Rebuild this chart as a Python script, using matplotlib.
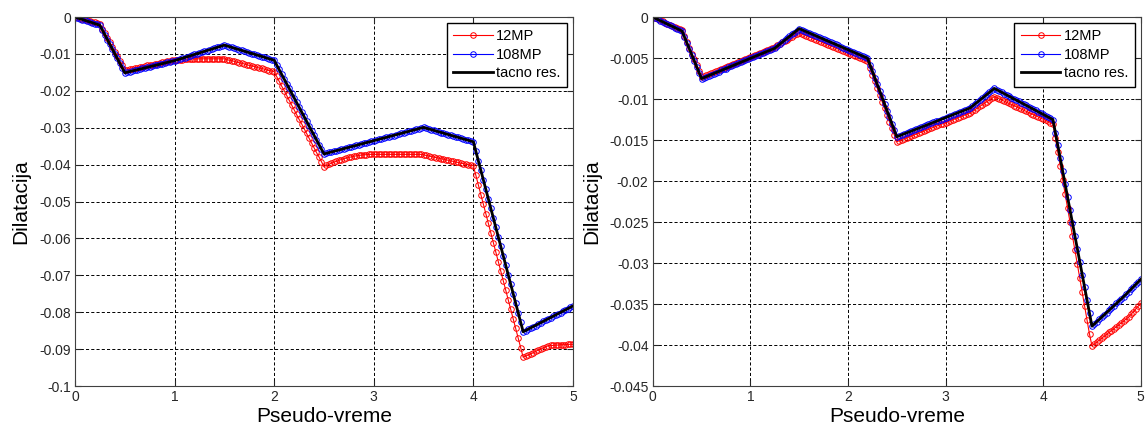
import numpy as np
import matplotlib
matplotlib.use('Agg')
import matplotlib.pyplot as plt

plt.rcParams['font.family'] = ['Liberation Sans', 'DejaVu Sans']

# pseudo-time steps (0 .. 5, step 0.025)
t = np.linspace(0, 5, 201)

# ---- left panel ----
mp12_L = [0, -.0001, -.0003, -.0004, -.0006, -.0008, -.0010, -.0012, -.0014, -.0016, -.0018,
          -.0031, -.0043, -.0056, -.0068, -.0081, -.0094, -.0106, -.0119, -.0131, -.0144,
          -.0143, -.0141, -.0140, -.0138, -.0137, -.0136, -.0134, -.0133, -.0131, -.0130,
          -.0129, -.0127, -.0126, -.0124, -.0123, -.0122, -.0120, -.0119, -.0117, -.0116,
          -.0116, -.0115, -.0115, -.0114, -.0114, -.0114, -.0113, -.0113, -.0113, -.0113,
          -.0113, -.0113, -.0113, -.0113, -.0113, -.0113, -.0113, -.0113, -.0113, -.0113,
          -.0115, -.0117, -.0118, -.0120, -.0122, -.0124, -.0125, -.0127, -.0129, -.0131,
          -.0132, -.0134, -.0136, -.0138, -.0139, -.0141, -.0143, -.0145, -.0146, -.0148,
          -.0161, -.0174, -.0187, -.0199, -.0212, -.0225, -.0238, -.0251, -.0264, -.0277,
          -.0289, -.0302, -.0315, -.0328, -.0341, -.0354, -.0367, -.0379, -.0392, -.0405,
          -.0402, -.0399, -.0396, -.0393, -.0391, -.0388, -.0386, -.0384, -.0382, -.0380,
          -.0379, -.0377, -.0376, -.0375, -.0374, -.0373, -.0373, -.0372, -.0372, -.0372,
          -.0372, -.0372, -.0372, -.0372, -.0372, -.0372, -.0372, -.0372, -.0372, -.0372,
          -.0372, -.0372, -.0372, -.0372, -.0372, -.0372, -.0372, -.0372, -.0372, -.0373,
          -.0375, -.0376, -.0378, -.0379, -.0381, -.0382, -.0384, -.0385, -.0387, -.0388,
          -.0390, -.0391, -.0393, -.0394, -.0396, -.0397, -.0399, -.0400, -.0402, -.0403,
          -.0429, -.0455, -.0481, -.0507, -.0533, -.0559, -.0585, -.0611, -.0637, -.0663,
          -.0689, -.0714, -.0740, -.0766, -.0792, -.0818, -.0844, -.0870, -.0896, -.0922,
          -.0919, -.0916, -.0913, -.0910, -.0906, -.0903, -.0900, -.0897, -.0894, -.0891,
          -.0890, -.0890, -.0889, -.0889, -.0888, -.0888, -.0888, -.0887, -.0887, -.0887]

mp108_L = [0, -.0002, -.0004, -.0007, -.0009, -.0011, -.0013, -.0015, -.0018, -.0020, -.0022,
           -.0035, -.0048, -.0061, -.0074, -.0087, -.0099, -.0112, -.0125, -.0138, -.0151,
           -.0149, -.0148, -.0146, -.0144, -.0143, -.0141, -.0139, -.0138, -.0136, -.0135,
           -.0133, -.0131, -.0130, -.0128, -.0126, -.0125, -.0123, -.0121, -.0120, -.0118,
           -.0116, -.0114, -.0112, -.0110, -.0108, -.0105, -.0103, -.0101, -.0099, -.0097,
           -.0095, -.0093, -.0091, -.0089, -.0087, -.0084, -.0082, -.0080, -.0078, -.0076,
           -.0078, -.0080, -.0082, -.0084, -.0086, -.0088, -.0090, -.0092, -.0094, -.0097,
           -.0099, -.0101, -.0103, -.0105, -.0107, -.0109, -.0111, -.0113, -.0115, -.0117,
           -.0130, -.0142, -.0155, -.0168, -.0181, -.0193, -.0206, -.0219, -.0231, -.0244,
           -.0257, -.0269, -.0282, -.0295, -.0308, -.0320, -.0333, -.0346, -.0358, -.0371,
           -.0369, -.0367, -.0366, -.0364, -.0362, -.0360, -.0358, -.0357, -.0355, -.0353,
           -.0351, -.0349, -.0348, -.0346, -.0344, -.0342, -.0340, -.0339, -.0337, -.0335,
           -.0333, -.0331, -.0330, -.0328, -.0326, -.0324, -.0322, -.0321, -.0319, -.0317,
           -.0315, -.0313, -.0312, -.0310, -.0308, -.0306, -.0304, -.0303, -.0301, -.0299,
           -.0301, -.0303, -.0305, -.0307, -.0309, -.0311, -.0313, -.0315, -.0317, -.0319,
           -.0320, -.0322, -.0324, -.0326, -.0328, -.0330, -.0332, -.0334, -.0336, -.0338,
           -.0364, -.0390, -.0415, -.0441, -.0467, -.0493, -.0518, -.0544, -.0570, -.0596,
           -.0621, -.0647, -.0673, -.0699, -.0724, -.0750, -.0776, -.0802, -.0827, -.0853,
           -.0850, -.0846, -.0843, -.0839, -.0836, -.0832, -.0829, -.0825, -.0822, -.0818,
           -.0815, -.0811, -.0808, -.0804, -.0801, -.0797, -.0794, -.0790, -.0787, -.0783]

exact_t_L = [0, 0.25, 0.5, 1.0, 1.5, 2.0, 2.5, 3.5, 4.0, 4.5, 5.0]
exact_L = [0, -.0022, -.0151, -.0118, -.0076, -.0117, -.0371, -.0299, -.0338, -.0853, -.0783]

yticks_L = [0, -.01, -.02, -.03, -.04, -.05, -.06, -.07, -.08, -.09, -.1]
ylabels_L = ['0', '-0.01', '-0.02', '-0.03', '-0.04', '-0.05', '-0.06', '-0.07', '-0.08', '-0.09', '-0.1']

# ---- right panel ----
mp12_R = [0, -.00013, -.00027, -.0004, -.00053, -.00067, -.0008, -.00093, -.00107, -.0012, -.00133, -.00147, -.0016,
          -.00231, -.00303, -.00374, -.00445, -.00516, -.00588, -.00659, -.0073,
          -.00718, -.00705, -.00693, -.00681, -.00668, -.00656, -.00644, -.00631, -.00619, -.00607,
          -.00594, -.00582, -.0057, -.00557, -.00545, -.00533, -.0052, -.00508, -.00496, -.00483,
          -.00471, -.00459, -.00446, -.00434, -.00422, -.00409, -.00397, -.00385, -.00372, -.0036,
          -.00343, -.00326, -.00309, -.00292, -.00275, -.00258, -.00241, -.00224, -.00207, -.0019,
          -.00203, -.00215, -.00228, -.0024, -.00253, -.00265, -.00278, -.0029, -.00303, -.00315,
          -.00328, -.0034, -.00353, -.00365, -.00378, -.0039, -.00403, -.00415, -.00428, -.0044,
          -.00453, -.00465, -.00478, -.0049, -.00503, -.00515, -.00528, -.0054,
          -.00622, -.00703, -.00785, -.00867, -.00948, -.0103, -.01112, -.01193, -.01275, -.01357, -.01438, -.0152,
          -.01508, -.01497, -.01485, -.01473, -.01462, -.0145, -.01438, -.01427, -.01415, -.01403,
          -.01392, -.0138, -.01368, -.01357, -.01345, -.01333, -.01322, -.0131, -.01298, -.01287,
          -.01275, -.01263, -.01252, -.0124, -.01228, -.01217, -.01205, -.01193, -.01182, -.0117,
          -.0115, -.0113, -.0111, -.0109, -.0107, -.0105, -.0103, -.0101, -.0099, -.0097,
          -.00984, -.00998, -.01011, -.01025, -.01039, -.01053, -.01066, -.0108, -.01094, -.01108,
          -.01121, -.01135, -.01149, -.01163, -.01176, -.0119, -.01204, -.01218, -.01231, -.01245,
          -.01259, -.01273, -.01286, -.013,
          -.01471, -.01643, -.01814, -.01985, -.02157, -.02328, -.02499, -.0267, -.02842, -.03013,
          -.03184, -.03356, -.03527, -.03698, -.0387, -.0401,
          -.03987, -.03963, -.0394, -.03917, -.03893, -.0387, -.03847, -.03823, -.038, -.03777,
          -.03753, -.0373, -.03707, -.03683, -.0366,
          -.03626, -.03592, -.03558, -.03524, -.0349]

mp108_R = [0, -.00014, -.00028, -.00043, -.00057, -.00071, -.00085, -.00099, -.00113, -.00128, -.00142, -.00156, -.0017,
           -.00243, -.00315, -.00388, -.0046, -.00533, -.00605, -.00678, -.0075,
           -.00738, -.00725, -.00713, -.00701, -.00688, -.00676, -.00664, -.00651, -.00639, -.00627,
           -.00614, -.00602, -.0059, -.00577, -.00565, -.00553, -.0054, -.00528, -.00516, -.00503,
           -.00491, -.00479, -.00466, -.00454, -.00442, -.00429, -.00417, -.00405, -.00392, -.0038,
           -.00356, -.00332, -.00308, -.00284, -.0026, -.00236, -.00212, -.00188, -.00164, -.0014,
           -.00153, -.00166, -.00179, -.00191, -.00204, -.00217, -.0023, -.00243, -.00256, -.00269,
           -.00281, -.00294, -.00307, -.0032, -.00333, -.00346, -.00359, -.00371, -.00384, -.00397,
           -.0041, -.00423, -.00436, -.00449, -.00461, -.00474, -.00487, -.005,
           -.0058, -.0066, -.0074, -.0082, -.009, -.0098, -.0106, -.0114, -.0122, -.013, -.0138, -.0146,
           -.01448, -.01437, -.01425, -.01413, -.01402, -.0139, -.01378, -.01367, -.01355, -.01343,
           -.01332, -.0132, -.01308, -.01297, -.01285, -.01273, -.01262, -.0125, -.01238, -.01227,
           -.01215, -.01203, -.01192, -.0118, -.01168, -.01157, -.01145, -.01133, -.01122, -.0111,
           -.01086, -.01062, -.01038, -.01014, -.0099, -.00966, -.00942, -.00918, -.00894, -.0087,
           -.00886, -.00902, -.00917, -.00933, -.00949, -.00965, -.00981, -.00997, -.01012, -.01028,
           -.01044, -.0106, -.01076, -.01092, -.01107, -.01123, -.01139, -.01155, -.01171, -.01187,
           -.01202, -.01218, -.01234, -.0125,
           -.01408, -.01565, -.01723, -.0188, -.02038, -.02195, -.02353, -.0251, -.02668, -.02825,
           -.02983, -.0314, -.03298, -.03455, -.03613, -.0377,
           -.03742, -.03715, -.03687, -.03659, -.03632, -.03604, -.03576, -.03548, -.03521, -.03493,
           -.03465, -.03438, -.0341,
           -.0338, -.0335, -.0332, -.0329, -.0326, -.0323, -.032]

exact_t_R = [0, 0.3, 0.5, 1.25, 1.5, 2.2, 2.5, 3.25, 3.5, 4.1, 4.5, 4.825, 5.0]
exact_R = [0, -.0017, -.0075, -.0038, -.0014, -.005, -.0146, -.0111, -.0087, -.0125, -.0377, -.0341, -.032]

yticks_R = [0, -.005, -.01, -.015, -.02, -.025, -.03, -.035, -.04, -.045]
ylabels_R = ['0', '-0.005', '-0.01', '-0.015', '-0.02', '-0.025', '-0.03', '-0.035', '-0.04', '-0.045']

xticks = [0, 1, 2, 3, 4, 5]


def panel(ax, r, b, et, ey, yt, yl):
    ax.plot(t, r, '-o', color='red', lw=0.8, ms=4, mfc='none', mew=0.7, label='12MP')
    ax.plot(t, b, '-o', color='blue', lw=0.8, ms=4, mfc='none', mew=0.7, label='108MP')
    ax.plot(et, ey, '-', color='black', lw=2, label='tacno res.')
    ax.set_xlim(0, 5)
    ax.set_ylim(yt[-1], 0)
    ax.set_xticks(xticks)
    ax.set_xticklabels([str(x) for x in xticks])
    ax.set_yticks(yt)
    ax.set_yticklabels(yl)
    ax.grid(True, color='black', linestyle=(0, (3.2, 2.2)), linewidth=0.7)
    ax.tick_params(direction='in', top=True, right=True, labelsize=10, length=4, pad=3,
                   colors='#262626')
    for s in ax.spines.values():
        s.set_color('#404040')
    ax.set_xlabel('Pseudo-vreme', fontsize=15, labelpad=2)
    ax.set_ylabel('Dilatacija', fontsize=15, labelpad=6)
    ax.legend(loc='upper right', fontsize=10.5, fancybox=False, framealpha=1, edgecolor='black',
              numpoints=1, handlelength=2.7, borderaxespad=0.4, borderpad=0.45,
              labelspacing=0.3, handletextpad=0.25)


fig = plt.figure(figsize=(11.48, 4.33), dpi=100)
ax1 = fig.add_axes([0.0653, 0.1085, 0.4338, 0.852])
ax2 = fig.add_axes([0.5686, 0.1085, 0.4251, 0.852])

panel(ax1, mp12_L, mp108_L, exact_t_L, exact_L, yticks_L, ylabels_L)
panel(ax2, mp12_R, mp108_R, exact_t_R, exact_R, yticks_R, ylabels_R)

fig.savefig('out.png', dpi=100)
